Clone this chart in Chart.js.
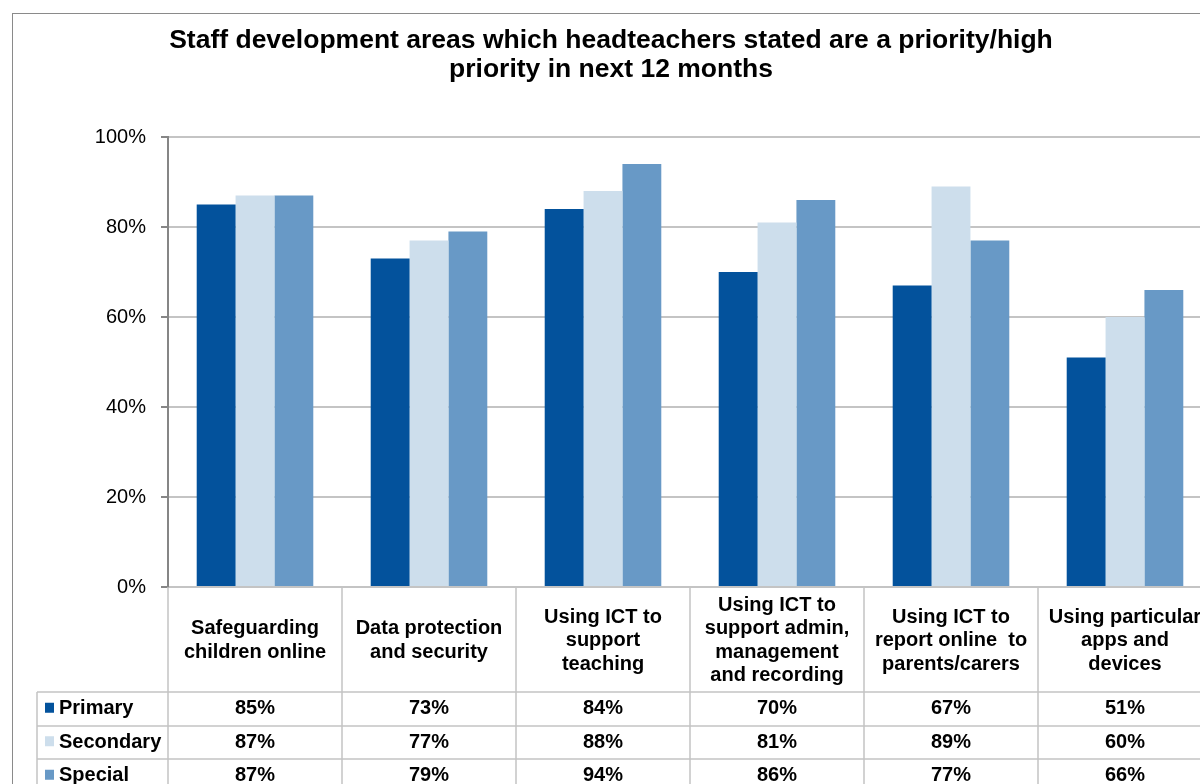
<!DOCTYPE html>
<html>
<head>
<meta charset="utf-8">
<script src="https://cdn.jsdelivr.net/npm/chart.js@4/dist/chart.umd.min.js"></script>
<style>
    html, body { margin: 0; padding: 0; background: #fff; }
    #wrap { width: 1200px; height: 784px; overflow: hidden; position: relative; }
    #chart { display: block; }
</style>
</head>
<body>
<div id="wrap">
    <canvas id="chart" width="1220" height="784"></canvas>
</div>
<script>
// Chart data
const titleLines = ['Staff development areas which headteachers stated are a priority/high', 'priority in next 12 months'];
const categories = [
    ['Safeguarding', 'children online'],
    ['Data protection', 'and security'],
    ['Using ICT to', 'support', 'teaching'],
    ['Using ICT to', 'support admin,', 'management', 'and recording'],
    ['Using ICT to', 'report online  to', 'parents/carers'],
    ['Using particular', 'apps and', 'devices']
];
const seriesNames = ['Primary', 'Secondary', 'Special'];
const primaryValues = [85, 73, 84, 70, 67, 51];
const secondaryValues = [87, 77, 88, 81, 89, 60];
const specialValues = [87, 79, 94, 86, 77, 66];
const yTicks = [0, 20, 40, 60, 80, 100];

const seriesColors = ['#03529c', '#cddeec', '#6899c6'];
const FONT = '"Liberation Sans", Arial, sans-serif';
const LINE_COLOR = '#c4c4c4';

// Draws the frame, title and the data table under the plot
const tablePlugin = {
    id: 'dataTable',
    beforeDraw(chart) {
        const ctx = chart.ctx;
        ctx.save();
        ctx.fillStyle = '#fff';
        ctx.fillRect(0, 0, chart.width, chart.height);
        ctx.strokeStyle = '#8a8a8a';
        ctx.lineWidth = 1;
        ctx.strokeRect(12.5, 13.5, 3000, 3000);
        ctx.restore();
    },
    afterDraw(chart) {
        const ctx = chart.ctx;
        const area = chart.chartArea;
        const xScale = chart.scales.x;
        const n = categories.length;
        const cellW = (xScale.right - xScale.left) / n;
        const headerBottom = 692;
        const rowH = 33.5;
        const legendLeft = 37;
        const bottom = chart.height;

        ctx.save();

        // title
        ctx.fillStyle = '#000';
        ctx.font = 'bold 26.5px ' + FONT;
        ctx.textAlign = 'center';
        ctx.textBaseline = 'middle';
        titleLines.forEach((line, i) => ctx.fillText(line, 611, 41 + i * 29));

        // grid lines of the table
        ctx.strokeStyle = LINE_COLOR;
        ctx.lineWidth = 1.5;
        ctx.beginPath();
        for (let i = 0; i <= n; i++) {
            const x = Math.round(xScale.left + i * cellW);
            ctx.moveTo(x, area.bottom);
            ctx.lineTo(x, bottom);
        }
        ctx.moveTo(legendLeft, headerBottom);
        ctx.lineTo(legendLeft, bottom);
        for (let r = 0; r < seriesNames.length; r++) {
            const y = Math.round(headerBottom + r * rowH);
            ctx.moveTo(legendLeft, y);
            ctx.lineTo(xScale.right, y);
        }
        ctx.stroke();

        // category headers
        ctx.fillStyle = '#000';
        ctx.font = 'bold 20px ' + FONT;
        const lh = 23.5;
        const headerMid = (area.bottom + headerBottom) / 2 + 1;
        categories.forEach((lines, i) => {
            const cx = xScale.getPixelForValue(i);
            const y0 = headerMid - (lines.length - 1) * lh / 2;
            lines.forEach((t, j) => ctx.fillText(t, cx, y0 + j * lh));
        });

        // values and legend keys
        ctx.font = 'bold 20px ' + FONT;
        chart.data.datasets.forEach((ds, r) => {
            const cy = headerBottom + r * rowH + rowH / 2;
            ds.data.forEach((v, i) => {
                ctx.textAlign = 'center';
                ctx.fillText(v + '%', xScale.getPixelForValue(i), cy);
            });
            ctx.fillStyle = ds.backgroundColor;
            ctx.fillRect(45, cy - 6, 9, 10);
            ctx.fillStyle = '#000';
            ctx.textAlign = 'left';
            ctx.fillText(ds.label, 59, cy);
        });

        ctx.restore();
    }
};

const chart = new Chart(document.getElementById('chart'), {
    type: 'bar',
    data: {
        labels: categories,
        datasets: [
            { label: seriesNames[0], data: primaryValues, backgroundColor: seriesColors[0] },
            { label: seriesNames[1], data: secondaryValues, backgroundColor: seriesColors[1] },
            { label: seriesNames[2], data: specialValues, backgroundColor: seriesColors[2] }
        ]
    },
    options: {
        responsive: false,
        animation: false,
        layout: {
            padding: { left: 0, right: 8, top: 137, bottom: 197 }
        },
        datasets: {
            bar: {
                categoryPercentage: 0.67,
                barPercentage: 1.0
            }
        },
        plugins: {
            legend: { display: false },
            title: { display: false },
            tooltip: { enabled: false }
        },
        scales: {
            x: {
                display: false
            },
            y: {
                min: 0,
                max: 100,
                afterFit(scale) {
                    scale.width = 168;
                },
                afterBuildTicks(scale) {
                    scale.ticks = yTicks.map(v => ({ value: v }));
                },
                border: {
                    color: '#868686',
                    width: 2
                },
                grid: {
                    color: LINE_COLOR,
                    lineWidth: 2,
                    tickLength: 7,
                    tickColor: '#868686'
                },
                ticks: {
                    padding: 15,
                    color: '#000',
                    font: { family: FONT, size: 20 },
                    callback: v => v + '%'
                }
            }
        }
    },
    plugins: [tablePlugin]
});
</script>
</body>
</html>
